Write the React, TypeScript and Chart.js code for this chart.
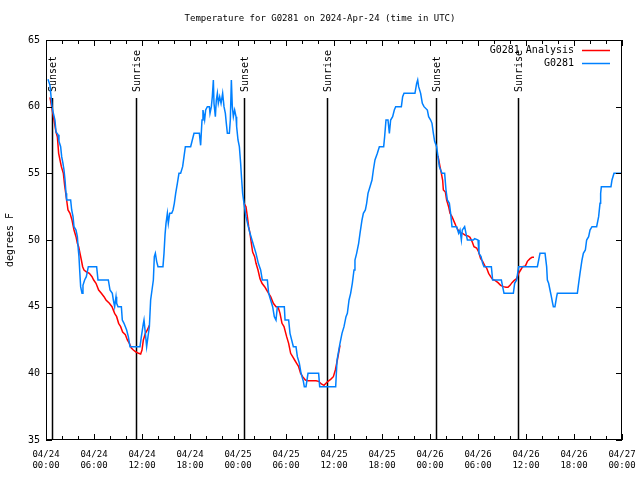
import React, { useEffect, useRef } from "react";
import { Chart, registerables } from "chart.js";

Chart.register(...registerables);

const FONT = "'DejaVu Sans Mono', monospace";

const TITLE = "Temperature for G0281 on 2024-Apr-24 (time in UTC)";
const Y_LABEL = "degrees F";
const SERIES_NAMES = ["G0281 Analysis", "G0281"];
const SERIES_COLORS = ["#ff0000", "#0080ff"];

// hours since 04/24 00:00 UTC
const X_MIN = 0;
const X_MAX = 72;
const X_MAJOR_STEP = 6;
const X_MINOR_STEP = 2;
const X_TICK_LABELS = [
  ["04/24", "00:00"], ["04/24", "06:00"], ["04/24", "12:00"], ["04/24", "18:00"],
  ["04/25", "00:00"], ["04/25", "06:00"], ["04/25", "12:00"], ["04/25", "18:00"],
  ["04/26", "00:00"], ["04/26", "06:00"], ["04/26", "12:00"], ["04/26", "18:00"],
  ["04/27", "00:00"],
];
const Y_MIN = 35;
const Y_MAX = 65;
const Y_STEP = 5;
const Y_TICKS = [35, 40, 45, 50, 55, 60, 65];

const SUNSET_HOURS = [0.78, 24.78, 48.78];
const SUNRISE_HOURS = [11.2, 35.16, 59.04];

// observed station temperature [hour, degF]
const STATION = [
  [0.25, 62.05], [0.5, 61.6], [0.75, 60.0], [0.88, 59.6], [1.12, 59.0], [1.25, 58.1], [1.5, 57.9],
  [1.62, 57.4], [1.83, 57.0], [1.96, 56.25], [2.12, 55.75], [2.25, 55.25], [2.38, 54.5], [2.5, 53.5],
  [2.58, 53.0], [3.08, 53.0], [3.21, 52.25], [3.38, 51.75], [3.5, 51.0], [3.75, 50.75], [3.92, 50.25],
  [4.04, 49.25], [4.12, 48.75], [4.21, 47.75], [4.33, 46.5], [4.5, 46.0], [4.62, 46.6], [4.83, 47.0],
  [5.04, 47.25], [5.29, 48.0], [6.33, 48.0], [6.5, 47.0], [7.79, 47.0], [8.0, 46.25], [8.29, 46.0],
  [8.42, 45.5], [8.58, 45.0], [8.75, 45.75], [8.83, 45.25], [9.0, 45.0], [9.42, 45.0], [9.54, 44.0],
  [9.75, 43.75], [10.08, 43.25], [10.29, 42.75], [10.5, 42.0], [11.75, 42.0], [11.92, 42.75],
  [12.17, 43.75], [12.25, 44.0], [12.42, 43.0], [12.58, 42.0], [12.75, 42.75], [12.92, 43.5],
  [13.08, 45.5], [13.25, 46.25], [13.42, 47.0], [13.54, 48.75], [13.67, 49.0], [13.83, 48.4],
  [14.0, 48.0], [14.62, 48.0], [14.75, 49.0], [14.88, 50.4], [15.0, 51.25], [15.17, 52.0],
  [15.29, 51.25], [15.46, 52.0], [15.71, 52.0], [15.88, 52.25], [16.04, 52.75], [16.21, 53.5],
  [16.42, 54.25], [16.62, 55.0], [16.83, 55.0], [17.08, 55.5], [17.25, 56.25], [17.42, 57.0],
  [18.08, 57.0], [18.29, 57.5], [18.5, 58.0], [19.17, 58.0], [19.33, 57.1], [19.5, 59.0],
  [19.62, 59.75], [19.83, 59.0], [19.96, 59.75], [20.17, 60.0], [20.42, 60.0], [20.5, 59.5],
  [20.67, 60.0], [20.79, 60.75], [20.92, 62.0], [21.0, 60.25], [21.17, 59.25], [21.29, 60.5],
  [21.42, 61.0], [21.54, 60.25], [21.71, 60.75], [21.88, 60.25], [22.08, 61.0], [22.25, 60.0],
  [22.42, 59.5], [22.54, 58.75], [22.67, 58.0], [22.92, 58.0], [23.04, 59.0], [23.17, 62.0],
  [23.29, 60.0], [23.42, 59.25], [23.58, 59.75], [23.75, 59.25], [23.83, 58.5], [24.0, 57.5],
  [24.17, 57.0], [24.33, 55.75], [24.46, 54.5], [24.58, 53.5], [24.75, 52.75], [25.0, 51.75],
  [25.29, 51.0], [25.5, 50.5], [25.75, 50.0], [26.0, 49.5], [26.25, 49.0], [26.54, 48.25],
  [26.83, 47.75], [27.04, 47.0], [27.67, 47.0], [27.83, 46.0], [28.08, 45.5], [28.33, 45.0],
  [28.54, 44.25], [28.75, 44.0], [28.92, 45.0], [29.79, 45.0], [29.88, 44.0], [30.33, 44.0],
  [30.5, 43.0], [30.92, 42.0], [31.25, 42.0], [31.42, 41.25], [31.67, 40.75], [31.88, 40.0],
  [32.17, 39.4], [32.29, 39.0], [32.5, 39.0], [32.75, 40.0], [34.08, 40.0], [34.21, 39.0],
  [36.21, 39.0], [36.38, 41.0], [36.75, 42.25], [37.0, 43.0], [37.25, 43.5], [37.5, 44.25],
  [37.67, 44.5], [37.88, 45.5], [38.08, 46.0], [38.29, 46.75], [38.5, 47.75], [38.62, 48.5],
  [38.83, 49.0], [39.08, 49.75], [39.25, 50.5], [39.5, 51.5], [39.67, 52.0], [39.92, 52.25],
  [40.08, 52.75], [40.25, 53.5], [40.5, 54.0], [40.75, 54.5], [40.92, 55.25], [41.12, 56.0],
  [41.42, 56.5], [41.67, 57.0], [42.21, 57.0], [42.33, 57.75], [42.5, 59.0], [42.75, 59.0],
  [42.92, 58.0], [43.08, 59.0], [43.33, 59.25], [43.54, 59.75], [43.71, 60.0], [44.42, 60.0],
  [44.58, 60.75], [44.75, 61.0], [46.12, 61.0], [46.33, 61.75], [46.46, 62.0], [46.58, 61.5],
  [46.83, 61.0], [47.04, 60.25], [47.25, 60.0], [47.67, 59.75], [47.83, 59.25], [48.08, 59.0],
  [48.25, 58.75], [48.42, 58.0], [48.58, 57.4], [48.83, 57.0], [49.0, 56.25], [49.17, 55.5],
  [49.33, 55.25], [49.5, 55.0], [49.83, 55.0], [50.0, 53.75], [50.17, 53.0], [50.42, 52.75],
  [50.58, 52.0], [50.75, 51.0], [51.33, 51.0], [51.58, 50.5], [51.75, 50.75], [51.92, 50.0],
  [52.04, 50.75], [52.33, 51.0], [52.5, 50.5], [52.67, 50.0], [53.42, 50.0], [53.58, 50.1],
  [54.0, 50.0], [54.12, 49.0], [54.38, 48.75], [54.58, 48.25], [54.75, 48.0], [55.67, 48.0],
  [55.83, 47.0], [56.92, 47.0], [57.08, 46.5], [57.25, 46.0], [58.42, 46.0], [58.58, 46.75],
  [58.83, 47.0], [59.08, 48.0], [61.42, 48.0], [61.75, 49.0], [62.38, 49.0], [62.58, 48.0],
  [62.67, 47.0], [62.83, 46.75], [63.0, 46.25], [63.17, 45.75], [63.33, 45.25], [63.42, 45.0],
  [63.62, 45.0], [63.83, 45.75], [63.92, 46.0], [66.42, 46.0], [66.58, 46.75], [66.75, 47.5],
  [67.0, 48.5], [67.17, 49.0], [67.42, 49.25], [67.58, 50.0], [67.83, 50.25], [68.0, 50.75],
  [68.25, 51.0], [68.83, 51.0], [69.08, 51.75], [69.25, 52.75], [69.33, 53.5], [69.42, 54.0],
  [70.62, 54.0], [70.75, 54.5], [71.0, 55.0], [72.0, 55.0],
];

// analysis temperature, night 1
const ANALYSIS_NIGHT1 = [
  [0.5, 60.7], [1.0, 59.0], [1.25, 58.1], [1.42, 57.75], [1.58, 56.5], [1.75, 56.0], [1.92, 55.5],
  [2.17, 55.0], [2.33, 54.1], [2.58, 53.0], [2.75, 52.25], [3.0, 52.0], [3.25, 51.5], [3.5, 50.75],
  [3.75, 50.25], [3.92, 49.75], [4.08, 49.5], [4.25, 49.0], [4.42, 48.5], [4.58, 48.0], [4.75, 47.75],
  [5.08, 47.6], [5.42, 47.5], [5.75, 47.25], [5.96, 47.0], [6.25, 46.75], [6.58, 46.25], [6.92, 46.0],
  [7.25, 45.75], [7.5, 45.5], [7.92, 45.25], [8.25, 45.0], [8.58, 44.5], [8.83, 44.25], [9.08, 43.75],
  [9.33, 43.5], [9.58, 43.1], [9.92, 42.9], [10.17, 42.5], [10.42, 42.25], [10.67, 41.9],
  [10.92, 41.75], [11.25, 41.6], [11.58, 41.5], [11.83, 41.45], [12.0, 41.75], [12.17, 42.5],
  [12.42, 43.0], [12.67, 43.25], [12.92, 43.6],
];
// analysis temperature, night 2
const ANALYSIS_NIGHT2 = [
  [24.75, 52.75], [25.0, 52.5], [25.17, 51.75], [25.33, 51.0], [25.5, 50.5], [25.67, 49.75],
  [25.83, 49.1], [26.08, 48.75], [26.25, 48.25], [26.5, 47.75], [26.75, 47.1], [27.0, 46.75],
  [27.33, 46.5], [27.58, 46.25], [27.83, 46.0], [28.08, 45.75], [28.42, 45.25], [28.75, 45.0],
  [29.0, 45.0], [29.25, 44.5], [29.5, 43.75], [29.75, 43.5], [30.08, 42.75], [30.33, 42.25],
  [30.58, 41.5], [30.83, 41.25], [31.08, 41.0], [31.33, 40.75], [31.58, 40.5], [31.83, 40.0],
  [32.08, 39.75], [32.42, 39.5], [32.75, 39.45], [33.25, 39.45], [33.75, 39.45], [34.08, 39.4],
  [34.42, 39.2], [34.75, 39.1], [35.0, 39.25], [35.25, 39.4], [35.58, 39.55], [35.92, 39.75],
  [36.17, 40.25], [36.42, 41.0], [36.75, 42.1],
];
// analysis temperature, night 3
const ANALYSIS_NIGHT3 = [
  [49.0, 56.3], [49.25, 55.5], [49.42, 55.0], [49.58, 54.5], [49.67, 53.75], [49.92, 53.6],
  [50.08, 53.0], [50.33, 52.5], [50.5, 52.0], [50.75, 51.75], [51.0, 51.4], [51.25, 51.05],
  [51.5, 50.75], [51.75, 50.55], [52.08, 50.5], [52.42, 50.35], [52.75, 50.3], [53.0, 50.2],
  [53.25, 49.9], [53.5, 49.5], [53.83, 49.4], [54.08, 49.1], [54.33, 48.6], [54.58, 48.4],
  [54.83, 48.1], [55.08, 47.9], [55.33, 47.5], [55.58, 47.25], [55.83, 47.05], [56.17, 46.95],
  [56.5, 46.8], [56.83, 46.6], [57.17, 46.5], [57.5, 46.45], [57.75, 46.45], [58.0, 46.6],
  [58.25, 46.8], [58.5, 46.95], [58.83, 47.1], [59.08, 47.5], [59.33, 47.75], [59.58, 48.0],
  [59.92, 48.05], [60.17, 48.4], [60.5, 48.6], [60.75, 48.7], [61.0, 48.7],
];

const toPoints = (arr: number[][]) => arr.map(([x, y]) => ({ x, y }));
const analysisPoints = [
  ...toPoints(ANALYSIS_NIGHT1),
  { x: 18, y: null },
  ...toPoints(ANALYSIS_NIGHT2),
  { x: 42, y: null },
  ...toPoints(ANALYSIS_NIGHT3),
];

const frameParts = {
  id: "frameParts",
  beforeDatasetsDraw(chart: any) {
    const { ctx, chartArea: a, scales } = chart;
    const x = scales.x;
    ctx.save();
    ctx.strokeStyle = "#000";
    ctx.fillStyle = "#000";
    ctx.lineWidth = 1.5;
    ctx.font = `10px ${FONT}`;
    const drawSun = (h: number, label: string) => {
      const px = Math.round(x.getPixelForValue(h)) + 0.5;
      ctx.beginPath();
      ctx.moveTo(px, a.top + 58);
      ctx.lineTo(px, a.bottom);
      ctx.stroke();
      ctx.save();
      ctx.translate(px + 1, a.top + 52);
      ctx.rotate(-Math.PI / 2);
      ctx.textAlign = "left";
      ctx.textBaseline = "middle";
      ctx.fillText(label, 0, 0);
      ctx.restore();
    };
    SUNSET_HOURS.forEach((h) => drawSun(h, "Sunset"));
    SUNRISE_HOURS.forEach((h) => drawSun(h, "Sunrise"));
    ctx.restore();
  },
  afterDraw(chart: any) {
    const { ctx, chartArea: a, scales, width } = chart;
    const x = scales.x;
    const y = scales.y;
    ctx.save();
    ctx.strokeStyle = "#000";
    ctx.lineWidth = 1;
    ctx.strokeRect(a.left + 0.5, a.top + 0.5, a.right - a.left - 1, a.bottom - a.top - 1);
    ctx.beginPath();
    for (let h = X_MIN; h <= X_MAX; h += X_MINOR_STEP) {
      const px = Math.round(x.getPixelForValue(h)) + 0.5;
      const len = h % X_MAJOR_STEP === 0 ? 6 : 4;
      ctx.moveTo(px, a.bottom);
      ctx.lineTo(px, a.bottom - len);
      ctx.moveTo(px, a.top);
      ctx.lineTo(px, a.top + len);
    }
    Y_TICKS.forEach((v) => {
      const py = Math.round(y.getPixelForValue(v)) + 0.5;
      ctx.moveTo(a.left, py);
      ctx.lineTo(a.left + 6, py);
      ctx.moveTo(a.right, py);
      ctx.lineTo(a.right - 6, py);
    });
    ctx.stroke();

    ctx.fillStyle = "#000";
    ctx.font = `9px ${FONT}`;
    ctx.textAlign = "center";
    ctx.textBaseline = "middle";
    ctx.fillText(TITLE, width / 2, 19);

    // legend
    ctx.font = `10px ${FONT}`;
    ctx.textAlign = "right";
    SERIES_NAMES.forEach((name, i) => {
      const ly = 50 + i * 13;
      ctx.fillStyle = "#000";
      ctx.fillText(name, 574, ly);
      ctx.strokeStyle = SERIES_COLORS[i];
      ctx.lineWidth = 1.5;
      ctx.beginPath();
      ctx.moveTo(582, ly + 0.5);
      ctx.lineTo(610, ly + 0.5);
      ctx.stroke();
    });
    ctx.restore();
  },
};

export default function App() {
  const ref = useRef<HTMLCanvasElement>(null);
  useEffect(() => {
    if (!ref.current) return;
    const chart = new Chart(ref.current, {
      type: "line",
      data: {
        datasets: [
          {
            label: SERIES_NAMES[1],
            data: toPoints(STATION),
            borderColor: SERIES_COLORS[1],
            borderWidth: 1.5,
            pointRadius: 0,
            order: 0,
          },
          {
            label: SERIES_NAMES[0],
            data: analysisPoints as any,
            borderColor: SERIES_COLORS[0],
            borderWidth: 1.5,
            pointRadius: 0,
            spanGaps: false,
            order: 1,
          },
        ],
      },
      options: {
        animation: false,
        responsive: false,
        maintainAspectRatio: false,
        layout: { padding: { top: 40, right: 18, left: 0, bottom: 0 } },
        plugins: {
          legend: { display: false },
          title: { display: false },
          tooltip: { enabled: false },
        },
        elements: { line: { tension: 0 }, point: { radius: 0 } },
        scales: {
          x: {
            type: "linear",
            min: X_MIN,
            max: X_MAX,
            afterFit: (s: any) => {
              s.height = 40;
              s.paddingLeft = 0;
              s.paddingRight = 0;
            },
            grid: { display: false, drawTicks: false },
            border: { display: false },
            ticks: {
              stepSize: X_MAJOR_STEP,
              autoSkip: false,
              maxRotation: 0,
              minRotation: 0,
              padding: 9,
              color: "#000",
              font: { family: FONT, size: 9 },
              callback: (v: any) => X_TICK_LABELS[Math.round((v - X_MIN) / X_MAJOR_STEP)] || "",
            },
          },
          y: {
            type: "linear",
            min: Y_MIN,
            max: Y_MAX,
            afterFit: (s: any) => {
              s.width = 46;
              s.paddingTop = 0;
              s.paddingBottom = 0;
            },
            grid: { display: false, drawTicks: false },
            border: { display: false },
            title: {
              display: true,
              text: Y_LABEL,
              color: "#000",
              font: { family: FONT, size: 10 },
              padding: { top: 4, bottom: 0 },
            },
            ticks: {
              stepSize: Y_STEP,
              padding: 6,
              color: "#000",
              font: { family: FONT, size: 10 },
            },
          },
        },
      },
      plugins: [frameParts],
    });
    return () => chart.destroy();
  }, []);
  return (
    <div style={{ position: "fixed", left: 0, top: 0, width: 640, height: 480, background: "#fff" }}>
      <canvas ref={ref} width={640} height={480} />
    </div>
  );
}
